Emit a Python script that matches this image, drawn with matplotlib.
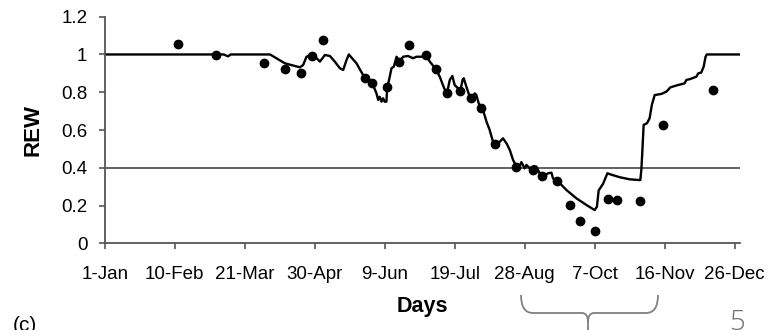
import matplotlib
matplotlib.use("Agg")
import matplotlib.pyplot as plt
from matplotlib.path import Path
from matplotlib.patches import PathPatch
from matplotlib.ticker import FormatStrFormatter

plt.rcParams['font.family'] = ['Liberation Sans', 'DejaVu Sans']

# simulated REW (line), day of year
curve_days = [0, 68, 70.5, 72, 94.5, 103, 111.5, 113.4, 115.3, 118.2, 121.1, 123, 125.8,
              128.7, 131.5, 134.4, 136.3, 138.2, 139.5, 143.9, 148.7, 153, 155.3, 156.3,
              157.2, 158.2, 159.1, 160, 161, 161.4, 162.5, 163.9, 165.2, 166.8, 168.6,
              170.5, 173.4, 176.2, 178.2, 181, 183.5, 185.8, 189.2, 191.5, 193.4, 195.3,
              196.2, 197.2, 198.7, 200, 201.9, 203.3, 204.5, 205.2, 206.7, 208.6, 209.6,
              211.5, 212.4, 214.3, 216.2, 218.2, 220, 221.9, 223.9, 225.8, 227.6, 229.6,
              231.5, 233.4, 235.3, 236.2, 238.1, 240, 241, 242.9, 245.2, 246.7, 248.6,
              250.5, 253.4, 255.3, 256.2, 258.1, 260.1, 263.9, 269.6, 275.3, 280, 281.3,
              282.3, 284.8, 287.3, 289, 294.3, 300, 305.3, 306.1, 306.7, 307.2, 308,
              309.9, 311.4, 312.7, 314.3, 318.1, 321, 323.3, 327.6, 331.4, 332.4, 334.3,
              338.1, 339.2, 340.9, 342.3, 343.4, 344.1, 363]
curve_rew = [1.0, 1.0, 0.99, 1.0, 1.0, 0.953, 0.932, 0.944, 0.988, 1.0, 0.98, 0.962, 0.997,
             0.992, 0.962, 0.927, 0.918, 0.971, 1.0, 0.953, 0.874, 0.847, 0.794, 0.759,
             0.776, 0.75, 0.768, 0.75, 0.75, 0.821, 0.865, 0.927, 0.935, 0.988, 0.962,
             0.988, 0.992, 0.98, 0.988, 0.988, 0.997, 0.962, 0.923, 0.882, 0.835, 0.794,
             0.821, 0.865, 0.886, 0.838, 0.821, 0.808, 0.865, 0.874, 0.829, 0.776, 0.768,
             0.794, 0.785, 0.723, 0.706, 0.644, 0.6, 0.538, 0.521, 0.538, 0.556, 0.53,
             0.494, 0.441, 0.406, 0.388, 0.43, 0.397, 0.415, 0.397, 0.409, 0.406, 0.371,
             0.353, 0.371, 0.374, 0.344, 0.326, 0.318, 0.282, 0.238, 0.203, 0.176, 0.194,
             0.28, 0.315, 0.371, 0.365, 0.35, 0.339, 0.335, 0.335, 0.39, 0.477, 0.627,
             0.636, 0.662, 0.733, 0.785, 0.791, 0.803, 0.826, 0.838, 0.847, 0.865, 0.869,
             0.882, 0.9, 0.904, 0.935, 0.988, 1.0, 1.0]

# measured REW (dots)
obs_days = [41.7, 63.6, 91.2, 103, 112.1, 118.2, 124.8, 148.7, 153, 161.4, 168.3, 174,
            183.5, 189.2, 195.7, 203.3, 209.2, 215.3, 222.9, 235.3, 244.6, 249.9, 258.5,
            265.7, 271.8, 280.4, 287.6, 292.7, 306, 319, 347.6]
obs_rew = [1.054, 0.999, 0.957, 0.922, 0.900, 0.994, 1.077, 0.874, 0.847, 0.826, 0.959,
           1.050, 0.997, 0.923, 0.795, 0.805, 0.768, 0.718, 0.524, 0.406, 0.388, 0.354,
           0.332, 0.203, 0.120, 0.063, 0.235, 0.229, 0.222, 0.628, 0.810]

tick_days = [0, 40, 80, 120, 160, 200, 240, 280, 320, 360]
tick_labels = ['1-Jan', '10-Feb', '21-Mar', '30-Apr', '9-Jun', '19-Jul', '28-Aug',
               '7-Oct', '16-Nov', '26-Dec']
threshold = 0.4

fig = plt.figure(figsize=(7.78, 3.3), dpi=100)
ax = fig.add_axes([0.1346, 0.2627, 0.951 - 0.1346, 0.9494 - 0.2627])

axis_col = '#555555'
ax.axhline(threshold, color='#555555', lw=1.3, zorder=1)
ax.plot(curve_days, curve_rew, color='black', lw=1.7, zorder=2)
ax.plot(obs_days, obs_rew, 'o', color='black', ms=6, zorder=3)

ax.set_xlim(0, 363)
ax.set_ylim(0, 1.2)
ax.set_xticks(tick_days)
ax.set_xticklabels(tick_labels)
ax.set_yticks([0, 0.2, 0.4, 0.6, 0.8, 1.0, 1.2])
ax.yaxis.set_major_formatter(FormatStrFormatter('%g'))
ax.tick_params(direction='out', length=4.5, width=1.2, color=axis_col, labelsize=13.5)
ax.tick_params(axis='x', pad=11.5)
ax.tick_params(axis='y', pad=8)
for side in ['top', 'right']:
    ax.spines[side].set_visible(False)
for side in ['left', 'bottom']:
    ax.spines[side].set_color(axis_col)
    ax.spines[side].set_linewidth(1.3)

ax.set_xlabel('Days', fontsize=15.5, fontweight='bold', labelpad=10)
ax.set_ylabel('REW', fontsize=16, fontweight='bold', labelpad=13)

# overlay in pixel coordinates for the slide leftovers
ov = fig.add_axes([0, 0, 1, 1])
ov.set_xlim(0, 778)
ov.set_ylim(330, 0)
ov.axis('off')
brace_col = '#808080'
left = Path([(521, 295), (521, 313), (533, 313), (582, 313), (588, 313), (588, 322), (588, 335)],
            [Path.MOVETO, Path.CURVE3, Path.CURVE3, Path.LINETO, Path.CURVE3, Path.CURVE3, Path.LINETO])
right = Path([(658, 295), (658, 313), (646, 313), (594, 313), (588, 313), (588, 322)],
             [Path.MOVETO, Path.CURVE3, Path.CURVE3, Path.LINETO, Path.CURVE3, Path.CURVE3])
for p in (left, right):
    ov.add_patch(PathPatch(p, fill=False, edgecolor=brace_col, lw=1.3))
ov.text(13, 316, '(c)', fontsize=15, va='top', ha='left', color='black')
ov.text(737, 309, '5', fontsize=20, va='top', ha='center', color='#707070',
        family=['Open Sans', 'DejaVu Sans'], fontweight='light')

fig.savefig('out.png', dpi=100)
